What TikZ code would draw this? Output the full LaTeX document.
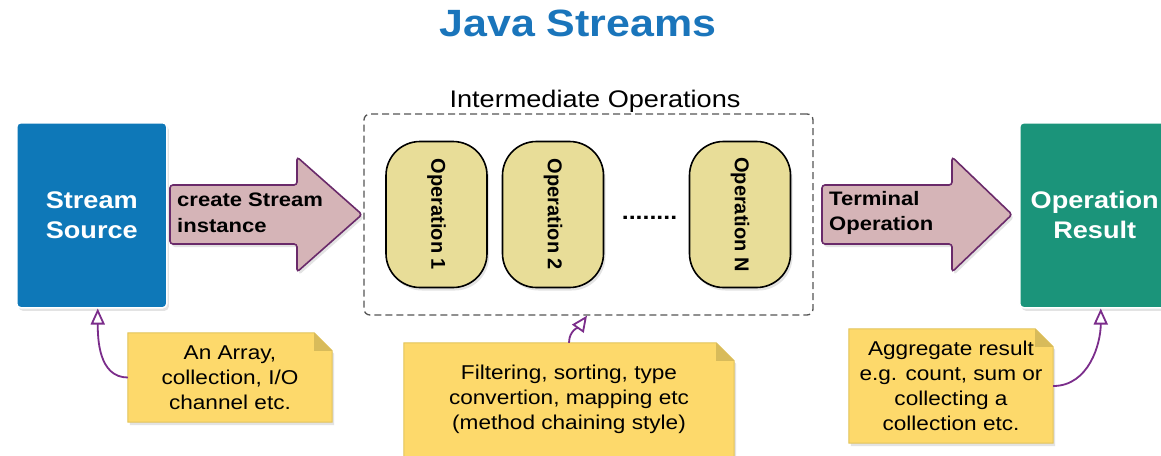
\documentclass[tikz,border=0pt]{standalone}
\usepackage{fontspec}
\setmainfont{Liberation Sans}[FakeStretch=1.13]
\newfontfamily\opfont{Liberation Sans}
\usetikzlibrary{shadows,arrows.meta,backgrounds}
\definecolor{titleblue}{HTML}{1A75BB}
\definecolor{srcblue}{HTML}{0E78B8}
\definecolor{resgreen}{HTML}{1B947A}
\definecolor{arrfill}{HTML}{D5B4B7}
\definecolor{arrdraw}{HTML}{6A2A6A}
\definecolor{opfill}{HTML}{E8DD98}
\definecolor{notefill}{HTML}{FDD96B}
\definecolor{notedraw}{HTML}{E2C35A}
\definecolor{notefold}{HTML}{D8BB5A}
\definecolor{conncol}{HTML}{7B2D8B}
\definecolor{dashcol}{HTML}{555555}
\begin{document}
\begin{tikzpicture}[x=1pt,y=-1pt,
  softshadow/.style={drop shadow={opacity=0.22,shadow xshift=2pt,shadow yshift=-3pt}},
  bigbox/.style={draw=white,line width=1.5pt,rounded corners=4pt,minimum width=150pt,minimum height=185pt,anchor=north west,text=white,align=center,font=\fontsize{24}{30}\selectfont\bfseries,softshadow},
  arrshape/.style={fill=arrfill,draw=arrdraw,line width=1.6pt,rounded corners=3pt,softshadow},
  arrlabel/.style={anchor=west,align=left,font=\fontsize{19.5}{25.5}\selectfont\bfseries,inner sep=0pt},
  opnode/.style={draw=black,line width=1.6pt,fill=opfill,rounded corners=34pt,minimum width=146pt,minimum height=101pt,rotate=-90,font=\opfont\bfseries\fontsize{20}{24}\selectfont,softshadow},
  notetext/.style={align=center,font=\fontsize{20}{25}\selectfont,inner sep=0pt},
  notebg/.style={fill=notefill,draw=notedraw,line width=1pt,softshadow},
  conn/.style={draw=conncol,line width=1.8pt,-{Triangle[open,length=16pt,width=14pt,line width=1.8pt]}}
]
\useasboundingbox (0,0) rectangle (1161,455);

% title
\node[font=\fontsize{38}{40}\selectfont\bfseries,text=titleblue] (title) at (578,23) {Java Streams};

% source and result
\node[bigbox,fill=srcblue] (src) at (16,122) {Stream\\Source};
\node[bigbox,fill=resgreen] (res) at (1019,122) {Operation\\Result};

% big arrows
\draw[arrshape] (170,185) -- (297,185) -- (297,157) -- (362,214.5) -- (297,272) -- (297,244) -- (170,244) -- cycle;
\node[arrlabel] (lbl1) at (177,213) {create Stream\\instance};
\draw[arrshape] (822,185) -- (952,185) -- (952,157) -- (1012,214.5) -- (952,272) -- (952,244) -- (822,244) -- cycle;
\node[arrlabel] (lbl2) at (829,213) {Terminal\\Operation};

% intermediate box
\node[draw=dashcol,line width=1.3pt,dash pattern=on 7pt off 4pt,rounded corners=6pt,minimum width=449pt,minimum height=201pt] (inter) at (588.5,214.5) {};
\node[anchor=base,font=\fontsize{24}{28}\selectfont] (interlbl) at (595,107) {Intermediate Operations};

\node[opnode] (op1) at (436.5,214.5) {Operation 1};
\node[opnode] (op2) at (553,214.5) {Operation 2};
\node[opnode] (opn) at (740,214.5) {Operation N};
\node[anchor=base,font=\fontsize{22}{24}\selectfont\bfseries] (dots) at (649.5,219) {........};

% notes
\node[notetext,minimum width=204pt,minimum height=89pt] (n1) at (230,377.5) {An Array,\\collection, I/O\\channel etc.};
\node[notetext,minimum width=330pt,minimum height=112pt] (n2) at (569,399) {Filtering, sorting, type\\convertion, mapping etc\\(method chaining style)};
\node[notetext,minimum width=204pt,minimum height=114pt] (n3) at (951,386) {Aggregate result\\e.g. count, sum or\\collecting a\\collection etc.};

\begin{scope}[on background layer]
  \fill[white] (0,0) rectangle (1161,455);
  \foreach \n/\ext in {n1/0pt,n2/-20pt,n3/0pt}{
    \draw[notebg] ([yshift=\ext]\n.south west) -- (\n.north west) -- ([xshift=-18pt]\n.north east) -- ([yshift=-18pt]\n.north east) -- ([yshift=\ext]\n.south east) -- cycle;
    \fill[notefold] ([xshift=-18pt]\n.north east) -- ([xshift=-18pt,yshift=-18pt]\n.north east) -- ([yshift=-18pt]\n.north east) -- cycle;
  }
\end{scope}

% connectors
\draw[conn] (n1.west) to[out=180,in=-90] ([xshift=6pt]src.south);
\draw[conn] (n2.north) to[out=90,in=-125] ([xshift=-1.5pt]inter.south);
\draw[conn] (n3.east) to[out=0,in=-90] ([xshift=6pt]res.south);
\end{tikzpicture}
\end{document}
